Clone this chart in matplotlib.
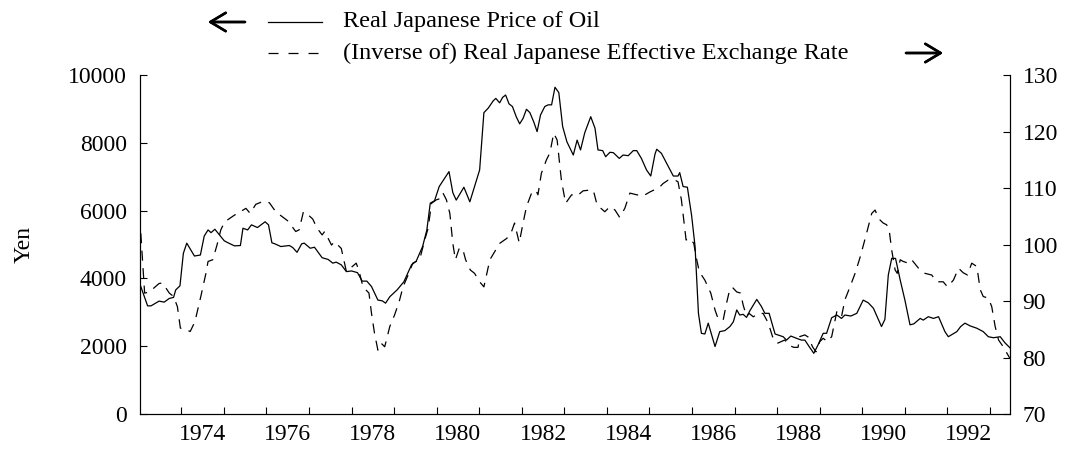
import matplotlib.pyplot as plt
from matplotlib.lines import Line2D

plt.rcParams['font.family'] = ['Liberation Serif', 'DejaVu Serif']

# Real Japanese price of oil (yen)
oil_years = [1973.05, 1973.21, 1973.29, 1973.48, 1973.60, 1973.72, 1973.82, 1973.87, 1973.97,
             1974.05, 1974.13, 1974.31, 1974.45, 1974.54, 1974.63, 1974.70, 1974.79,
             1975.01, 1975.10, 1975.25, 1975.39, 1975.45, 1975.56, 1975.65, 1975.79, 1975.97,
             1976.05, 1976.13, 1976.20, 1976.34, 1976.54, 1976.62, 1976.72, 1976.83, 1976.89,
             1977.03, 1977.13, 1977.31, 1977.45, 1977.56, 1977.64, 1977.76, 1977.88,
             1978.00, 1978.14, 1978.25, 1978.36, 1978.47, 1978.62, 1978.72, 1978.80, 1978.90,
             1979.07, 1979.23, 1979.41, 1979.52, 1979.67, 1979.77, 1979.85, 1979.95,
             1980.06, 1980.29, 1980.38, 1980.46, 1980.64, 1980.78,
             1981.01, 1981.11, 1981.21, 1981.33, 1981.39, 1981.48, 1981.55, 1981.62, 1981.70,
             1981.78, 1981.87, 1981.95,
             1982.03, 1982.11, 1982.19, 1982.28, 1982.36, 1982.44, 1982.54, 1982.62, 1982.70,
             1982.78, 1982.87, 1982.96,
             1983.06, 1983.21, 1983.30, 1983.38, 1983.48, 1983.62, 1983.72, 1983.79, 1983.90, 1983.97,
             1984.07, 1984.15, 1984.29, 1984.38, 1984.50, 1984.62, 1984.70, 1984.81, 1984.93,
             1985.03, 1985.13, 1985.17, 1985.28, 1985.40, 1985.56, 1985.67, 1985.71, 1985.79,
             1985.89, 1985.99,
             1986.07, 1986.15, 1986.22, 1986.30, 1986.38, 1986.54, 1986.65, 1986.77, 1986.89, 1986.97,
             1987.05, 1987.12, 1987.20, 1987.28, 1987.36, 1987.52, 1987.63, 1987.71, 1987.81, 1987.95,
             1988.02, 1988.14, 1988.22, 1988.32, 1988.46, 1988.57, 1988.65, 1988.75, 1988.86, 1988.96,
             1989.08, 1989.16, 1989.28, 1989.40, 1989.51, 1989.59, 1989.73, 1989.87,
             1990.02, 1990.14, 1990.26, 1990.45, 1990.53, 1990.61, 1990.69, 1990.78, 1990.89,
             1991.00, 1991.12, 1991.21, 1991.36, 1991.43, 1991.55, 1991.67, 1991.79, 1991.94,
             1992.02, 1992.22, 1992.31, 1992.41, 1992.53, 1992.69, 1992.84, 1992.96,
             1993.08, 1993.24, 1993.35, 1993.47]
oil_yen = [3760, 3190, 3190, 3330, 3300, 3410, 3440, 3660, 3780,
           4740, 5040, 4660, 4690, 5250, 5430, 5350, 5450,
           5110, 5050, 4960, 4970, 5480, 5430, 5580, 5500, 5670,
           5580, 5050, 5020, 4940, 4970, 4910, 4770, 5020, 5040,
           4890, 4920, 4610, 4560, 4450, 4480, 4400, 4200,
           4220, 4170, 3920, 3920, 3760, 3360, 3340, 3270, 3460,
           3660, 3900, 4400, 4510, 4940, 5430, 6220, 6290,
           6710, 7150, 6530, 6310, 6690, 6260,
           7200, 8890, 9020, 9240, 9310, 9180, 9340, 9410, 9150,
           9070, 8770, 8560,
           8720, 8990, 8890, 8620, 8330, 8820, 9070, 9120, 9120,
           9640, 9480, 8480,
           8030, 7640, 8080, 7790, 8300, 8770, 8430, 7790, 7770, 7590,
           7720, 7710, 7540, 7640, 7620, 7770, 7770, 7540, 7200,
           7020, 7670, 7810, 7690, 7400, 7020, 7020, 7120, 6710,
           6690, 5850,
           4950, 2970, 2380, 2360, 2680, 1990, 2430, 2460, 2580, 2720,
           3070, 2920, 2940, 2850, 3050, 3380, 3170, 2970, 2970, 2360,
           2330, 2280, 2180, 2300, 2230, 2180, 2180, 1990, 1790, 2040,
           2380, 2380, 2840, 2920, 2820, 2920, 2890, 2970,
           3360, 3280, 3120, 2580, 2790, 4100, 4590, 4590, 3950,
           3360, 2630, 2660, 2820, 2770, 2870, 2820, 2870, 2430,
           2280, 2430, 2580, 2680, 2600, 2530, 2430, 2280,
           2250, 2280, 2100, 1950]

# (Inverse of) real Japanese effective exchange rate, right axis
eer_years = [1973.05, 1973.14, 1973.25, 1973.48, 1973.56, 1973.72, 1973.82, 1973.91, 1973.98,
             1974.13, 1974.21, 1974.32, 1974.46, 1974.58, 1974.63, 1974.74, 1974.84, 1974.93,
             1975.02, 1975.25, 1975.32, 1975.52, 1975.62, 1975.75, 1975.91,
             1976.07, 1976.22, 1976.50, 1976.69, 1976.77, 1976.87, 1976.93,
             1977.09, 1977.19, 1977.31, 1977.37, 1977.53, 1977.60, 1977.76, 1977.88,
             1978.11, 1978.17, 1978.27, 1978.41, 1978.47, 1978.54, 1978.62, 1978.70, 1978.78, 1978.90,
             1979.01, 1979.12, 1979.21, 1979.33, 1979.44, 1979.60, 1979.72, 1979.80, 1979.88, 1979.99,
             1980.11, 1980.15, 1980.23, 1980.31, 1980.38, 1980.44, 1980.53, 1980.61, 1980.68,
             1980.79, 1980.89,
             1981.01, 1981.11, 1981.25, 1981.48, 1981.65, 1981.76, 1981.83, 1981.94,
             1982.03, 1982.11, 1982.23, 1982.33, 1982.38, 1982.46, 1982.58, 1982.66, 1982.75,
             1982.83, 1982.93,
             1983.03, 1983.17, 1983.30, 1983.44, 1983.56, 1983.68, 1983.77, 1983.95,
             1984.07, 1984.19, 1984.30, 1984.42, 1984.54, 1984.70, 1984.85,
             1985.01, 1985.23, 1985.32, 1985.44, 1985.60, 1985.67, 1985.75, 1985.86, 1985.95,
             1986.04, 1986.11, 1986.17, 1986.30, 1986.44, 1986.54, 1986.61, 1986.73, 1986.81,
             1986.89, 1986.95,
             1987.05, 1987.14, 1987.20, 1987.28, 1987.34, 1987.44, 1987.55, 1987.67, 1987.79, 1987.89,
             1988.00, 1988.18, 1988.26, 1988.39, 1988.49, 1988.53, 1988.65, 1988.73, 1988.83, 1988.91,
             1989.00, 1989.08, 1989.18, 1989.28, 1989.40, 1989.51, 1989.59, 1989.71, 1989.83, 1989.95,
             1990.10, 1990.22, 1990.30, 1990.38, 1990.49, 1990.57, 1990.63, 1990.69, 1990.77,
             1990.82, 1990.89, 1990.96,
             1991.08, 1991.16, 1991.32, 1991.47, 1991.63, 1991.75, 1991.90,
             1992.00, 1992.14, 1992.26, 1992.37, 1992.47, 1992.57, 1992.69, 1992.77, 1992.84, 1992.96,
             1993.04, 1993.12, 1993.20, 1993.31, 1993.43, 1993.47]
eer_index = [102.0, 91.4, 91.6, 93.1, 93.2, 91.4, 90.8, 89.0, 85.2,
             84.9, 84.6, 86.3, 90.8, 94.9, 97.0, 97.3, 99.9, 102.6,
             104.0, 105.2, 105.5, 106.4, 105.5, 107.1, 107.6,
             107.4, 105.8, 104.2, 102.3, 102.6, 105.8, 105.6,
             104.5, 102.9, 101.7, 102.3, 99.9, 100.5, 99.3, 95.2,
             96.7, 95.5, 92.5, 91.4, 87.8, 84.3, 81.3, 82.5, 81.9, 85.5,
             87.5, 89.9, 92.5, 94.6, 96.7, 97.3, 100.8, 102.9, 107.3, 107.9,
             108.2, 109.1, 107.9, 105.5, 100.2, 97.3, 99.3, 99.3, 97.3,
             95.5, 94.9,
             93.4, 92.5, 97.3, 100.2, 101.1, 102.3, 103.8, 100.3,
             103.8, 106.7, 109.1, 109.6, 108.8, 112.6, 115.0, 116.2, 119.7,
             118.5, 111.4,
             107.3, 108.8, 108.6, 109.5, 109.6, 109.6, 107.0, 105.8,
             106.7, 106.1, 104.8, 106.4, 109.1, 108.8, 108.6,
             109.3, 110.1, 110.8, 111.4, 111.4, 111.1, 107.9, 100.8, 101.1,
             100.2, 97.3, 95.2, 93.7, 91.4, 88.4, 86.9, 86.6, 89.6,
             92.2, 92.4,
             91.6, 91.4, 89.3, 87.3, 87.8, 87.2, 87.8, 87.8, 86.1, 83.7,
             82.5, 83.1, 82.2, 81.8, 81.8, 83.7, 84.0, 83.6, 81.9, 81.0,
             82.8, 83.4, 82.8, 83.7, 88.1, 87.2, 90.2, 92.5, 94.9, 97.8,
             102.0, 105.5, 106.1, 104.6, 103.8, 103.5, 102.6, 99.0, 95.5,
             94.9, 97.3, 97.0,
             96.7, 97.3, 95.8, 94.9, 94.6, 93.4, 93.4,
             92.5, 93.7, 95.8, 95.0, 94.6, 96.7, 96.1, 92.0, 90.8, 90.5,
             89.0, 85.5, 83.1, 81.9, 80.3, 79.8]

year_ticks = list(range(1974, 1994))
year_labels = [str(y) for y in range(1974, 1993, 2)]

fig = plt.figure(figsize=(10.65, 4.5), dpi=100)
ax = fig.add_axes([0.1310, 0.08, 0.8174, 0.7533])
ax2 = ax.twinx()

ax.plot(oil_years, oil_yen, color='black', lw=0.9)
ax2.plot(eer_years, eer_index, color='black', lw=0.9, dashes=(8, 6))

ax.set_xlim(1973.02, 1993.47)
ax.set_ylim(0, 10000)
ax2.set_ylim(70, 130)
ax.set_yticks(range(0, 10001, 2000))
ax2.set_yticks(range(70, 131, 10))

# ticks at year starts, labels centred in the year
ax.set_xticks(year_ticks)
ax.set_xticklabels([])
ax.set_xticks([int(l) + 0.5 for l in year_labels], minor=True)
ax.set_xticklabels(year_labels, minor=True)
ax.tick_params(axis='x', which='major', direction='in', length=5, width=0.8)
ax.tick_params(axis='x', which='minor', length=0, pad=7, labelsize=17)
ax.tick_params(axis='y', direction='in', length=5, width=0.8, pad=9, labelsize=17)
ax2.tick_params(axis='y', direction='in', length=5, width=0.8, pad=9, labelsize=17)

for a in (ax, ax2):
    a.spines['top'].set_visible(False)
    for s in ('left', 'right', 'bottom'):
        a.spines[s].set_linewidth(0.8)

ax.set_ylabel('Yen', fontsize=17, labelpad=24)

# legend drawn above the axes with direction arrows
fig.text(343 / 1065, 1 - 22 / 450, 'Real Japanese Price of Oil', fontsize=17.5, va='center', ha='left')
fig.text(343 / 1065, 1 - 53 / 450, '(Inverse of) Real Japanese Effective Exchange Rate',
         fontsize=17.5, va='center', ha='left')
fig.add_artist(Line2D([268 / 1065, 322 / 1065], [1 - 22 / 450, 1 - 22 / 450], color='black', lw=0.9))
fig.add_artist(Line2D([268 / 1065, 320 / 1065], [1 - 53 / 450, 1 - 53 / 450], color='black', lw=0.9,
                      dashes=(8, 8)))
arrow = dict(arrowstyle='->, head_length=0.5, head_width=0.3', lw=1.8, color='black',
             mutation_scale=22, shrinkA=0, shrinkB=0)
fig.add_artist(plt.annotate('', xy=(208 / 1065, 1 - 22 / 450), xytext=(245 / 1065, 1 - 22 / 450),
                            xycoords='figure fraction', arrowprops=arrow))
fig.add_artist(plt.annotate('', xy=(943 / 1065, 1 - 53 / 450), xytext=(906 / 1065, 1 - 53 / 450),
                            xycoords='figure fraction', arrowprops=arrow))

fig.savefig('out.png', dpi=100)
